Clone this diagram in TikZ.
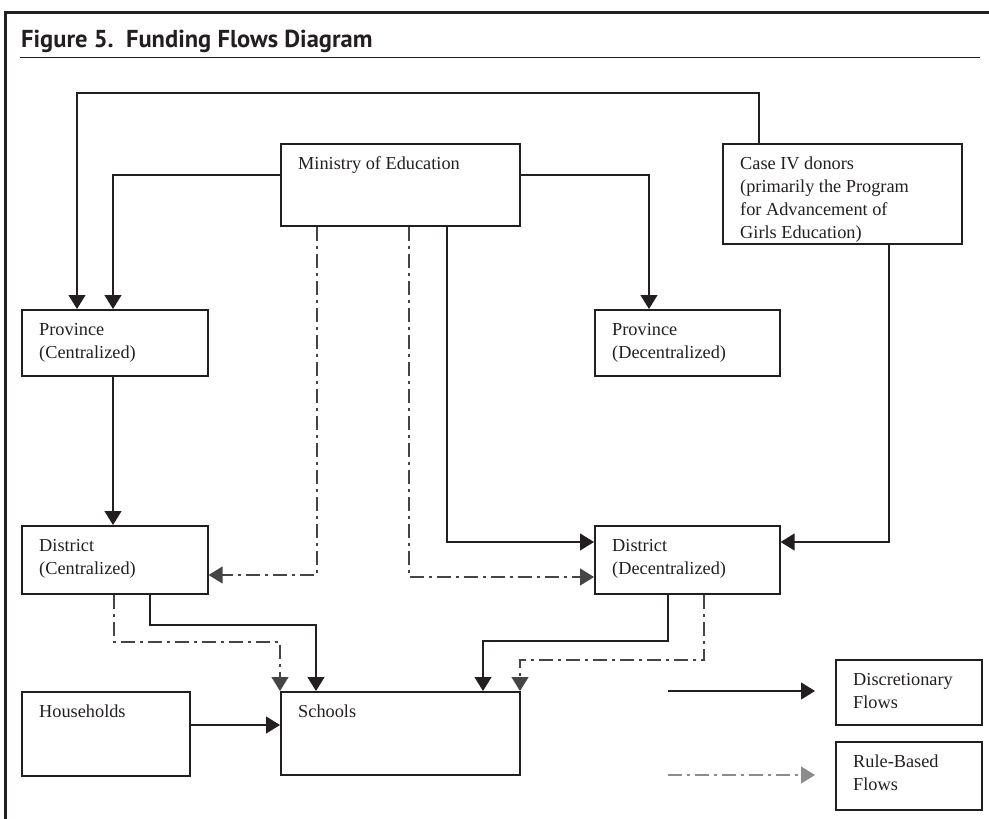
\documentclass[tikz,border=0pt]{standalone}
\usepackage{fontspec}
\setmainfont{Liberation Serif}
\newfontfamily\titlefont{PT Sans}
\usetikzlibrary{arrows.meta,calc}
\definecolor{ink}{HTML}{231F20}
\definecolor{rulegray}{HTML}{454545}
\definecolor{leggray}{HTML}{8C8C8C}
\tikzset{
  boxst/.style={draw=ink, line width=1.6pt, inner sep=0pt, rectangle},
  txt/.style={inner sep=0pt, align=left, text=ink, font=\fontsize{18.3}{23}\selectfont},
  flow/.style={draw=ink, line width=1.3pt, -{Triangle[length=14pt,width=17pt]}},
  ruleflow/.style={draw=rulegray, line width=1.3pt, dash pattern=on 14pt off 5pt on 3pt off 5pt, -{Triangle[length=14pt,width=17pt]}},
  legrule/.style={draw=leggray, line width=1.3pt, dash pattern=on 14pt off 5pt on 3pt off 5pt, -{Triangle[length=14pt,width=17pt]}}
}
\newcommand\fbx[6]{%
  \node[boxst, minimum width=#4pt, minimum height=#5pt, anchor=north west] (#1) at (#2,#3) {};
  \node[txt, anchor=north west] (#1t) at ([xshift=18pt,yshift=-10pt]#1.north west) {\strut #6};
}
\begin{document}
\begin{tikzpicture}[x=1pt,y=-1pt]
\useasboundingbox (0,0) rectangle (989,819);
% frame
\draw[ink, line width=3pt] (5,819) -- (5,12) -- (989,12);
\node[anchor=base west, inner sep=0pt, text=ink] (title) at (21,47) {\titlefont\bfseries\fontsize{24.5}{28}\selectfont Figure 5.\ \ Funding Flows Diagram};
\draw[ink, line width=1pt] (20,57) -- (980,57);
% boxes
\fbx{mini}{280}{143}{239}{82}{Ministry of Education}
\fbx{case}{722}{143}{239}{100}{Case IV donors\\(primarily the Program\\for Advancement of\\Girls Education)}
\fbx{provc}{21}{309}{186}{66}{Province\\(Centralized)}
\fbx{provd}{594}{309}{185}{66}{Province\\(Decentralized)}
\fbx{distc}{21}{525}{186}{68}{District\\(Centralized)}
\fbx{distd}{594}{525}{185}{68}{District\\(Decentralized)}
\fbx{house}{21}{691}{168}{84}{Households}
\fbx{school}{280}{691}{239}{83}{Schools}
\fbx{disc}{835}{659}{146}{65}{Discretionary\\Flows}
\fbx{rule}{835}{741}{146}{68}{Rule-Based\\Flows}
% helper coordinates
\coordinate (T) at (77,93);
\coordinate (X759) at (759,0);
\coordinate (Y175) at (0,175);
\coordinate (X113) at (113,0);
\coordinate (X649) at (649,0);
\coordinate (X317) at (317,0);
\coordinate (X409) at (409,0);
\coordinate (X447) at (447,0);
\coordinate (X889) at (889,0);
\coordinate (Y575) at (0,575);
\coordinate (Y577) at (0,577);
\coordinate (Y542) at (0,542);
\coordinate (Y725) at (0,725);
\coordinate (b1) at (316,625);
\coordinate (b2) at (280,642);
\coordinate (b3) at (483,641);
\coordinate (b4) at (520,660);
\coordinate (l1) at (668,691);
\coordinate (l2) at (815,691);
\coordinate (l3) at (668,775);
\coordinate (l4) at (815,775);
% connectors
\draw[flow] (case.north -| X759) |- (T) -- (provc.north -| T);
\draw[flow] (mini.west |- Y175) -| (provc.north -| X113);
\draw[flow] (mini.east |- Y175) -| (provd.north -| X649);
\draw[flow] (provc.south -| X113) -- (distc.north -| X113);
\draw[ruleflow] (mini.south -| X317) |- (distc.east |- Y575);
\draw[ruleflow] (mini.south -| X409) |- (distd.west |- Y577);
\draw[flow] (mini.south -| X447) |- (distd.west |- Y542);
\draw[flow] (case.south -| X889) |- (distd.east |- Y542);
\draw[flow] ([xshift=129pt]distc.south west) |- (b1) -- (b1 |- school.north);
\draw[ruleflow] ([xshift=93pt]distc.south west) |- (b2) -- (b2 |- school.north);
\draw[flow] ([xshift=74pt]distd.south west) |- (b3) -- (b3 |- school.north);
\draw[ruleflow] ([xshift=110pt]distd.south west) |- (b4) -- (b4 |- school.north);
\draw[flow] (house.east |- Y725) -- (school.west |- Y725);
% legend
\draw[flow] (l1) -- (l2);
\draw[legrule] (l3) -- (l4);
\end{tikzpicture}
\end{document}
